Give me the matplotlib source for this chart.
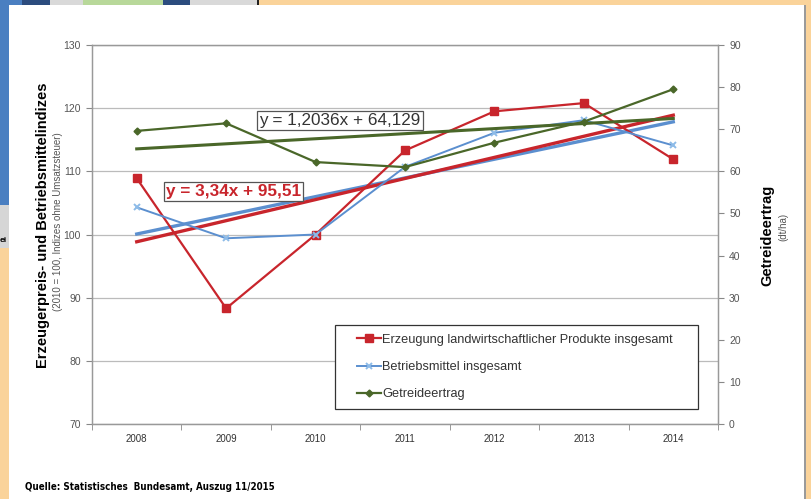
import numpy as np
import matplotlib.pyplot as plt
from matplotlib.patches import Rectangle

plt.rcParams['font.family'] = ['Liberation Sans', 'DejaVu Sans']

# data
jahre = ['2008', '2009', '2010', '2011', '2012', '2013', '2014']
erzeugung = [108.9, 88.3, 100.0, 113.3, 119.5, 120.8, 111.9]
betriebsmittel = [104.3, 99.4, 100.0, 110.7, 116.1, 118.1, 114.1]
getreide = [69.6, 71.4, 62.2, 61.0, 66.8, 71.8, 79.5]

# trend coefficients as printed in the chart
trend_rot = [3.34, 95.51]
trend_gruen = [1.2036, 64.129]

rot = '#C8252C'
blau = '#5B8FCF'
blau_m = '#8DBBE8'
gruen = '#4A6729'

W, H = 811, 499
fig = plt.figure(figsize=(W / 100, H / 100), dpi=100)
fig.patch.set_facecolor('white')

def px_rect(x0, y0, x1, y1, c):
    fig.patches.append(Rectangle((x0 / W, 1 - y1 / H), (x1 - x0) / W, (y1 - y0) / H,
                                 transform=fig.transFigure, facecolor=c,
                                 edgecolor='none', zorder=0))

# screenshot frame around the chart
px_rect(0, 0, 811, 5, '#FAD39A')
px_rect(0, 0, 22, 5, '#4A7FC1')
px_rect(22, 0, 50, 5, '#2C4C7E')
px_rect(50, 0, 83, 5, '#D9D9D9')
px_rect(83, 0, 163, 5, '#B8D89A')
px_rect(163, 0, 190, 5, '#2C4C7E')
px_rect(190, 0, 257, 5, '#D9D9D9')
px_rect(257, 0, 259, 5, '#222222')
px_rect(0, 0, 9, 205, '#4A7FC1')
px_rect(0, 205, 9, 248, '#D6D6D6')
px_rect(0, 248, 9, 499, '#FAD39A')
px_rect(804, 5, 806, 499, '#9A9A9A')
px_rect(806, 0, 811, 499, '#FAD39A')
fig.text(0 / W, 1 - 240 / H, 'ei', fontsize=6, fontweight='bold', va='center', ha='left')

ax = fig.add_axes([92 / W, 1 - 424 / H, (718 - 92) / W, (424 - 45) / H])
ax2 = ax.twinx()

x = np.arange(1, len(jahre) + 1)

ax.set_xlim(0.5, len(jahre) + 0.5)
ax.set_ylim(70, 130)
ax2.set_ylim(0, 90)
ax.set_yticks(np.arange(70, 131, 10))
ax2.set_yticks(np.arange(0, 91, 10))
ax.set_xticks(x)
ax.set_xticklabels(jahre)
ax.set_xticks(np.arange(0.5, len(jahre) + 1), minor=True)
ax.tick_params(axis='x', which='major', length=0, pad=7, labelsize=7, labelcolor='#333333')
ax.tick_params(axis='x', which='minor', length=4, color='#888888', direction='out')
ax.tick_params(axis='y', length=4, color='#888888', labelsize=7.5, labelcolor='#555555', pad=4)
ax2.tick_params(axis='y', length=4, color='#888888', labelsize=7.5, labelcolor='#555555', pad=4)
ax.grid(axis='y', color='#BBBBBB', linewidth=0.9)
ax.set_axisbelow(True)
for a in (ax, ax2):
    for s in a.spines.values():
        s.set_color('#999999')
        s.set_linewidth(0.9)

# trend lines
ax.plot(x, np.polyval(trend_rot, x), color=rot, lw=2.4, zorder=3)
b_fit = np.polyfit(x, betriebsmittel, 1)
ax.plot(x, np.polyval(b_fit, x), color=blau, lw=2.4, zorder=2)
ax2.plot(x, np.polyval(trend_gruen, x), color=gruen, lw=2.2, zorder=2)

# series
l1, = ax.plot(x, erzeugung, color=rot, lw=1.6, marker='s', ms=5.5, mfc=rot, mec=rot, zorder=4,
              label='Erzeugung landwirtschaftlicher Produkte insgesamt')
l2, = ax.plot(x, betriebsmittel, color=blau, lw=1.4, marker='x', ms=5, mec=blau_m, mew=1.4,
              zorder=4, label='Betriebsmittel insgesamt')
l3, = ax2.plot(x, getreide, color=gruen, lw=1.6, marker='D', ms=3.5, mfc=gruen, mec=gruen,
               zorder=4, label='Getreideertrag')

ax.text(1.33, 106.8, 'y = 3,34x + 95,51', color=rot, fontsize=12.3, fontweight='bold',
        va='center', ha='left', zorder=6,
        bbox=dict(boxstyle='square,pad=0.12', fc='white', ec='#555555', lw=0.9))
ax2.text(2.37, 72.1, 'y = 1,2036x + 64,129', color='#333333', fontsize=12.3,
         va='center', ha='left', zorder=6,
         bbox=dict(boxstyle='square,pad=0.12', fc='white', ec='#555555', lw=0.9))

# legend frame drawn separately (wide side padding as in the original)
ax2.add_patch(Rectangle(((335 - 92) / 626, 1 - (409 - 45) / 379), (698 - 335) / 626,
                        (409 - 325) / 379, transform=ax2.transAxes, fc='white',
                        ec='#333333', lw=0.9, zorder=7))
leg = ax2.legend(handles=[l1, l2, l3], loc='center left',
                 bbox_to_anchor=((357 - 92) / 626, 1 - (367 - 45) / 379),
                 fontsize=9.2, frameon=False, handlelength=1.9,
                 handletextpad=0.05, labelspacing=1.2, borderpad=0, borderaxespad=0)
leg.set_zorder(8)
for t in leg.get_texts():
    t.set_color('#333333')

fig.text(43 / W, 1 - 225 / H, 'Erzeugerpreis- und Betriebsmittelindizes', rotation=90,
         fontsize=10.5, fontweight='bold', ha='center', va='center')
fig.text(58 / W, 1 - 222 / H, '(2010 = 100, Indizes ohne Umsatzsteuer)', rotation=90,
         fontsize=7, color='#555555', ha='center', va='center')
fig.text(767 / W, 1 - 235 / H, 'Getreideertrag', rotation=90,
         fontsize=10.5, fontweight='bold', ha='center', va='center')
fig.text(783 / W, 1 - 227 / H, '(dt/ha)', rotation=90,
         fontsize=7, color='#555555', ha='center', va='center')
fig.text(25 / W, 1 - 487 / H, 'Quelle: Statistisches  Bundesamt, Auszug 11/2015',
         fontsize=7, fontweight='bold', ha='left', va='center',
         family='DejaVu Sans', fontstretch='condensed')

fig.savefig('out.png', dpi=100)
